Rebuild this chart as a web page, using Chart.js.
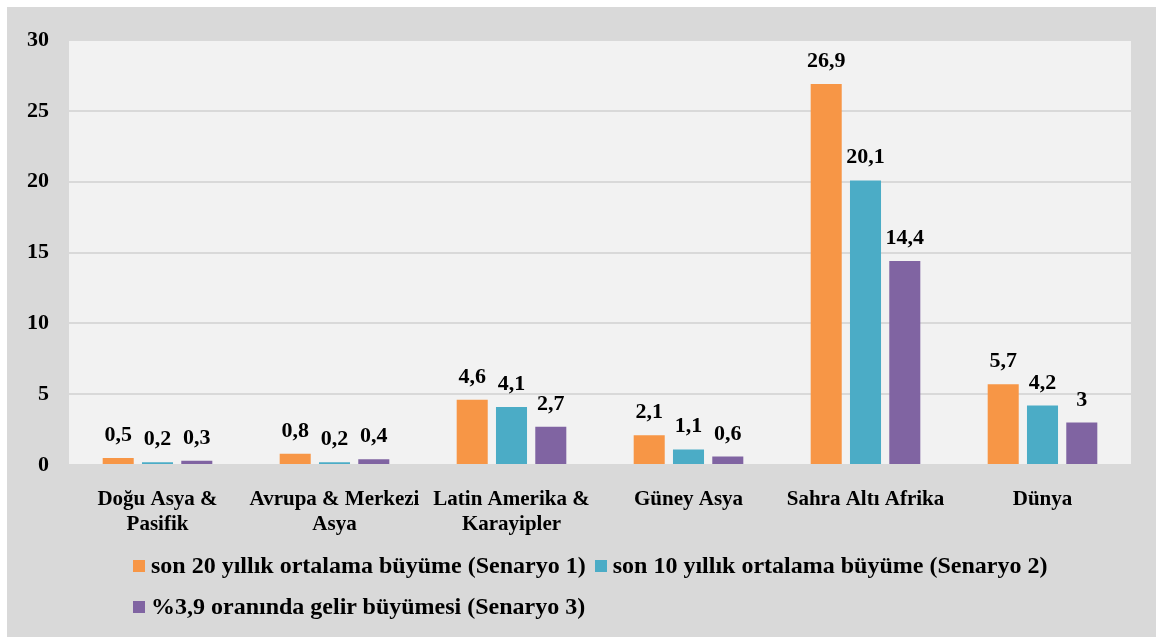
<!DOCTYPE html>
<html>
<head>
<meta charset="utf-8">
<script src="https://cdn.jsdelivr.net/npm/chart.js@4.4.0/dist/chart.umd.min.js"></script>
<style>
  html, body { margin: 0; padding: 0; background: #fff; }
  #wrap { position: absolute; left: 7px; top: 7px; width: 1149px; height: 630px; background: #d9d9d9; }
  #legend { position: absolute; left: 126px; top: 538px; width: 960px; display: flex; flex-wrap: wrap;
            font-family: 'Liberation Serif', 'Times New Roman', serif; font-weight: bold; font-size: 24px; color: #000; }
  .item { display: flex; align-items: center; height: 41px; margin-right: 9px; white-space: nowrap; }
  .box { width: 12px; height: 12px; margin-right: 6px; }
</style>
</head>
<body>
<div id="wrap">
  <canvas id="grafik"></canvas>
  <div id="legend"></div>
</div>
<script>
// kategoriler ve senaryo verileri
var kategoriler = [['Doğu Asya &', 'Pasifik'], ['Avrupa & Merkezi', 'Asya'], ['Latin Amerika &', 'Karayipler'], 'Güney Asya', 'Sahra Altı Afrika', 'Dünya'];
var senaryo1 = [0.5, 0.8, 4.6, 2.1, 26.9, 5.7];
var senaryo2 = [0.2, 0.2, 4.1, 1.1, 20.1, 4.2];
var senaryo3 = [0.3, 0.4, 2.7, 0.6, 14.4, 3];
var seriAdlari = ['son 20 yıllık ortalama büyüme (Senaryo 1)', 'son 10 yıllık ortalama büyüme (Senaryo 2)', '%3,9 oranında gelir büyümesi (Senaryo 3)'];
var renkler = ['#f79646', '#4bacc6', '#8064a2'];
var yMin = 0, yMax = 30, yAdim = 5;

var FONT = "'Liberation Serif', 'Times New Roman', serif";

function fmt(v) { return String(v).replace('.', ','); }

// cizim alani arka plani
var alanArkaPlan = {
    id: 'alanArkaPlan',
    beforeDraw: function(chart) {
        var a = chart.chartArea, ctx = chart.ctx;
        ctx.save();
        ctx.fillStyle = '#f2f2f2';
        ctx.fillRect(a.left, a.top, a.right - a.left, a.bottom - a.top);
        ctx.restore();
    }
};

// cubuk ustu degerler
var degerEtiketi = {
    id: 'degerEtiketi',
    afterDatasetsDraw: function(chart) {
        var ctx = chart.ctx;
        ctx.save();
        ctx.font = 'bold 22px ' + FONT;
        ctx.fillStyle = '#000';
        ctx.textAlign = 'center';
        ctx.textBaseline = 'alphabetic';
        chart.data.datasets.forEach(function(ds, i) {
            chart.getDatasetMeta(i).data.forEach(function(bar, j) {
                ctx.fillText(fmt(ds.data[j]), bar.x, bar.y - 17);
            });
        });
        ctx.restore();
    }
};

var grafik = new Chart(document.getElementById('grafik'), {
    type: 'bar',
    data: {
        labels: kategoriler,
        datasets: [
            { label: seriAdlari[0], data: senaryo1, backgroundColor: renkler[0] },
            { label: seriAdlari[1], data: senaryo2, backgroundColor: renkler[1] },
            { label: seriAdlari[2], data: senaryo3, backgroundColor: renkler[2] }
        ]
    },
    options: {
        responsive: true, maintainAspectRatio: false, animation: false,
        layout: { padding: { top: 30, right: 25, bottom: 72, left: 0 } },
        datasets: { bar: { categoryPercentage: 0.666, barPercentage: 0.79 } },
        plugins: {
            legend: { display: false },
            tooltip: { enabled: false }
        },
        scales: {
            x: {
                grid: { display: false },
                border: { display: false },
                ticks: { color: '#000', padding: 14, font: { family: FONT, size: 21, weight: 'bold', lineHeight: 1.2 } },
                afterFit: function(s) { s.height = 100; }
            },
            y: {
                min: yMin, max: yMax,
                grid: { color: '#d9d9d9', lineWidth: 2, drawTicks: false },
                border: { display: false },
                ticks: { stepSize: yAdim, color: '#000', padding: 20, font: { family: FONT, size: 22, weight: 'bold' } },
                afterFit: function(s) { s.width = 62; }
            }
        }
    },
    plugins: [alanArkaPlan, degerEtiketi]
});

// html lejant
var lej = document.getElementById('legend');
grafik.data.datasets.forEach(function(ds) {
    var it = document.createElement('div');
    it.className = 'item';
    it.innerHTML = '<span class="box" style="background:' + ds.backgroundColor + '"></span><span>' + ds.label + '</span>';
    lej.appendChild(it);
});

if (document.fonts) document.fonts.ready.then(function() { grafik.update(); });
</script>
</body>
</html>
